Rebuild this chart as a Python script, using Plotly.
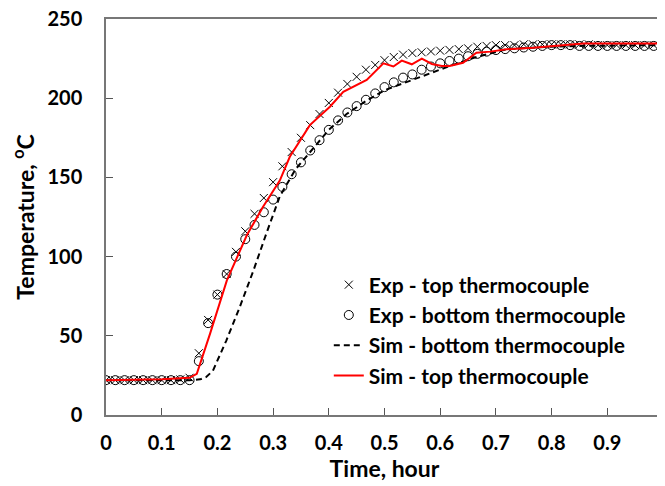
import plotly.graph_objects as go

# Experimental data, sampled every minute (time in hours = k/60)
exp_minutes = list(range(61))
exp_top = [22, 22, 22, 22, 22, 22, 22, 22, 22.5, 23.5,
           39, 60, 76, 89, 103, 116, 127, 137, 147, 157,
           166, 175, 183, 190, 197, 203.5, 209, 213.5, 218, 221,
           224, 226, 227.5, 228.5, 229, 229.5, 230, 230.5, 231, 231.5,
           232.5, 233, 233.5, 233.5, 233.5, 234, 234, 234, 234, 234,
           234, 234, 234, 233.5, 233.5, 233.5, 233.5, 233.5, 233.5, 233.5, 233.5]
exp_bottom = [22, 22, 22, 22, 22, 22, 22, 22, 22, 22,
              34, 58, 76, 89, 100, 111, 120, 128, 136, 144,
              152, 159.5, 167, 173.5, 180, 186, 191, 195, 199, 203,
              207, 210, 213, 215, 218, 220, 222, 223.5, 225, 226.5,
              228, 229.4, 230.4, 231, 231.5, 232, 232.5, 233, 233.5, 233.5,
              233.5, 233, 233, 233, 233, 233, 233, 233, 233, 233, 233]
exp_time = [k / 60 for k in exp_minutes]

sim_top_time = [0, 0.1, 0.15, 0.163, 0.187, 0.217, 0.253, 0.282, 0.312, 0.33,
                0.366, 0.402, 0.426, 0.45, 0.468, 0.498, 0.516, 0.531, 0.549, 0.567,
                0.585, 0.603, 0.617, 0.641, 0.665, 0.69, 0.719, 0.767, 0.857, 1.0]
sim_top = [22, 22.5, 23.5, 26, 51.5, 85, 113.6, 131.5, 148, 163,
           183, 194.6, 204, 208, 211.5, 222, 220, 223.7, 221.4, 225,
           221.6, 220.3, 220.3, 222.4, 228.7, 229.4, 230.9, 231.9, 234.6, 234.6]

sim_bottom_time = [0, 0.15, 0.169, 0.18, 0.192, 0.216, 0.24, 0.265, 0.288, 0.312,
                   0.34, 0.366, 0.4, 0.432, 0.47, 0.5, 0.558, 0.617, 0.665, 0.72,
                   0.8, 0.85, 1.0]
sim_bottom = [22, 22, 22.5, 24, 28, 47, 68, 91.5, 114.7, 138,
              155, 166, 180, 190, 199, 205, 212.5, 220.3, 226, 231,
              232.5, 233, 233.5]

x_ticks = [0, 0.1, 0.2, 0.3, 0.4, 0.5, 0.6, 0.7, 0.8, 0.9, 1]
x_tick_labels = ["0", "0.1", "0.2", "0.3", "0.4", "0.5", "0.6", "0.7", "0.8", "0.9", "1"]
y_ticks = [0, 50, 100, 150, 200, 250]

FONT = "Lato"

fig = go.Figure()
fig.add_trace(go.Scatter(
    x=exp_time, y=exp_top, mode="markers", name="<b>Exp - top thermocouple</b>",
    legendgroup="a",
    marker=dict(symbol="x-thin-open", size=8, color="black", line=dict(color="black", width=1))))
fig.add_trace(go.Scatter(
    x=exp_time, y=exp_bottom, mode="markers", name="<b>Exp - bottom thermocouple</b>",
    legendgroup="b",
    marker=dict(symbol="circle-open", size=9, color="black", line=dict(color="black", width=1))))
fig.add_trace(go.Scatter(
    x=sim_bottom_time, y=sim_bottom, mode="lines", name="<b>Sim - bottom thermocouple</b>",
    legendgroup="c",
    line=dict(color="black", width=2, dash="6px,4px")))
fig.add_trace(go.Scatter(
    x=sim_top_time, y=sim_top, mode="lines", name="<b>Sim - top thermocouple</b>",
    legendgroup="d",
    line=dict(color="red", width=2)))

# page has an 8px body margin, so the figure is sized to fit the window after it
fig.update_layout(
    width=657, height=478,
    margin=dict(l=98, r=2, t=11, b=71),
    plot_bgcolor="white", paper_bgcolor="white",
    font=dict(family=FONT, color="black"),
    showlegend=True,
    legend=dict(x=0.400, y=0.38, xanchor="left", yanchor="top",
                bgcolor="rgba(0,0,0,0)",
                font=dict(family=FONT, size=21, color="black"),
                tracegroupgap=0,
                itemwidth=30),
)
fig.update_xaxes(
    range=[0, 1], tickvals=x_ticks, ticktext=x_tick_labels, automargin=False,
    ticks="inside", ticklen=7, tickcolor="#555", tickwidth=1,
    showline=True, linecolor="#777", linewidth=1.5, mirror=True,
    showgrid=False, zeroline=False, ticklabelstandoff=9, ticklabeloverflow="allow",
    tickfont=dict(family=FONT, size=20, color="black", weight="bold"),
    title=dict(text="<b>Time, hour</b>", font=dict(family=FONT, size=23, color="black"), standoff=6),
)
fig.update_yaxes(
    range=[0, 250], tickvals=y_ticks, automargin=False,
    ticks="inside", ticklen=7, tickcolor="#555", tickwidth=1,
    showline=True, linecolor="#777", linewidth=1.5, mirror=True,
    showgrid=False, zeroline=False, ticklabelstandoff=18, ticklabeloverflow="allow",
    tickfont=dict(family=FONT, size=20, color="black", weight="bold"),
    title=dict(text="<b>Temperature, <sup>o</sup>C</b>", font=dict(family=FONT, size=23, color="black"), standoff=8),
)

fig.write_html("out.html")
